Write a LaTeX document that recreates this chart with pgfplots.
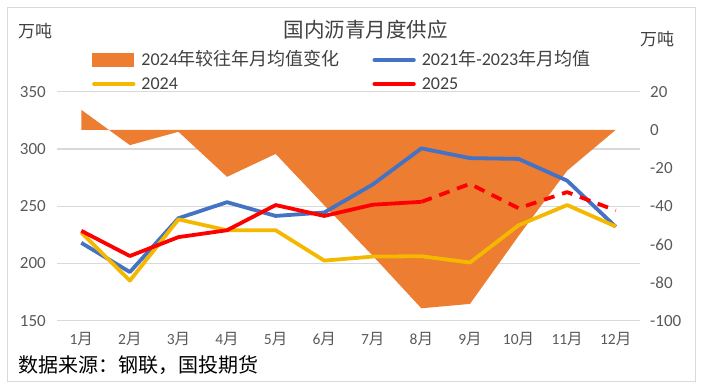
\documentclass[border=0pt]{standalone}
\usepackage{fontspec}
\setmainfont{Carlito}
\newfontfamily\cjk{Noto Sans CJK SC}
\usepackage{pgfplots}
\pgfplotsset{compat=1.18}
\definecolor{cOrange}{HTML}{ED7D31}
\definecolor{cBlue}{HTML}{4472C4}
\definecolor{cYellow}{HTML}{F5B800}
\definecolor{cRed}{HTML}{FF0000}
\definecolor{gridc}{HTML}{D9D9D9}
\definecolor{tickc}{HTML}{595959}
\definecolor{titlec}{HTML}{404040}
\newcommand{\yue}{{\cjk 月}}
\begin{document}
\begin{tikzpicture}[x=1pt,y=1pt]
\useasboundingbox (0,0) rectangle (703,388);
\draw[color=gridc, line width=0.8pt] (7.5,6.5) rectangle (695,381);
\pgfplotsset{base/.style={at={(57pt,67.3pt)}, anchor=south west, scale only axis,
  width=583pt, height=229pt, xmin=0.5, xmax=12.5,
  axis line style={draw=none}, major tick length=0pt,
  /pgf/number format/assume math mode=true,
  tick label style={font=\fontsize{17}{17}\selectfont, color=tickc}}}
% grid + left axis + x labels
\begin{axis}[base, ymin=150, ymax=350, ytick={150,200,...,350},
  ymajorgrids, grid style={color=gridc, line width=1.2pt},
  yticklabel style={anchor=east, inner sep=0pt, xshift=-11pt},
  xtick={1,...,12},
  xticklabels={1\yue,2\yue,3\yue,4\yue,5\yue,6\yue,7\yue,8\yue,9\yue,10\yue,11\yue,12\yue},
  xticklabel style={font=\fontsize{15.5}{15.5}\selectfont, anchor=center, inner sep=0pt, yshift=-18pt}]
\end{axis}
% right axis with area
\begin{axis}[base, ymin=-100, ymax=20, ytick={-100,-80,...,20}, yticklabel pos=right,
  yticklabel style={anchor=west, inner sep=0pt, xshift=10pt}, xtick=\empty]
\addplot[fill=cOrange, draw=none] coordinates {(1,10.5)(2,-8)(3,-1)(4,-24.6)(5,-12.6)(6,-39.5)(7,-66)(8,-93.5)(9,-91.2)(10,-55.6)(11,-21.4)(12,0)} \closedcycle;
\end{axis}
% lines
\begin{axis}[base, ymin=150, ymax=350, xtick=\empty, ytick=\empty,
  legend columns=2,
  legend style={at={(0.060,1.086)}, anchor=west, draw=none, fill=none, inner sep=0pt,
    font=\fontsize{18}{18}\selectfont, text=titlec,
    nodes={inner sep=0pt, text height=14pt, text depth=4pt},
    row sep=6pt, column sep=6pt},
  legend cell align=left]
\addlegendimage{legend image code/.code={\fill[cOrange] (0pt,-6.5pt) rectangle (41pt,6.5pt);}}
\addlegendentry{\makebox[225pt][l]{2024{\cjk 年较往年月均值变化}}}
\addlegendimage{legend image code/.code={\draw[cBlue, line width=3.8pt, line cap=round] (1.5pt,0pt) -- (41pt,0pt);}}
\addlegendentry{2021{\cjk 年}-2023{\cjk 年月均值}}
\addlegendimage{legend image code/.code={\draw[cYellow, line width=3.8pt, line cap=round] (1.5pt,0pt) -- (41pt,0pt);}}
\addlegendentry{\makebox[225pt][l]{2024}}
\addlegendimage{legend image code/.code={\draw[cRed, line width=3.8pt, line cap=round] (1.5pt,0pt) -- (41pt,0pt);}}
\addlegendentry{2025}
\addplot[forget plot, cBlue, line width=3.8pt, line join=round] coordinates {(1,218)(2,192.5)(3,239.5)(4,253.5)(5,241.5)(6,244.5)(7,269)(8,300.5)(9,292)(10,291.3)(11,272.3)(12,232)};
\addplot[forget plot, cYellow, line width=3.8pt, line join=round] coordinates {(1,227)(2,185)(3,238.5)(4,229)(5,229)(6,202.5)(7,206)(8,206.3)(9,200.8)(10,233.3)(11,251)(12,232.3)};
\addplot[forget plot, cRed, line width=3.8pt, line join=round] coordinates {(1,228.5)(2,206.5)(3,223)(4,229)(5,251)(6,241.5)(7,251.3)(8,253.8)};
\addplot[forget plot, cRed, line width=3.8pt, dash pattern=on 11pt off 8pt, line join=round] coordinates {(8,253.8)(9,269.5)(10,248.2)(11,262.3)(12,246.3)};
\end{axis}
\node[font=\cjk\fontsize{20.5}{20.5}\selectfont, text=titlec, inner sep=0pt] at (365.5,358.5) {国内沥青月度供应};
\node[font=\cjk\fontsize{17}{17}\selectfont, text=titlec, inner sep=0pt] at (35,357) {万吨};
\node[font=\cjk\fontsize{17}{17}\selectfont, text=titlec, inner sep=0pt] at (657,349) {万吨};
\node[font=\cjk\fontsize{20}{20}\selectfont, text=black, inner sep=0pt, anchor=west] at (18,23) {数据来源：钢联，国投期货};
\end{tikzpicture}
\end{document}
